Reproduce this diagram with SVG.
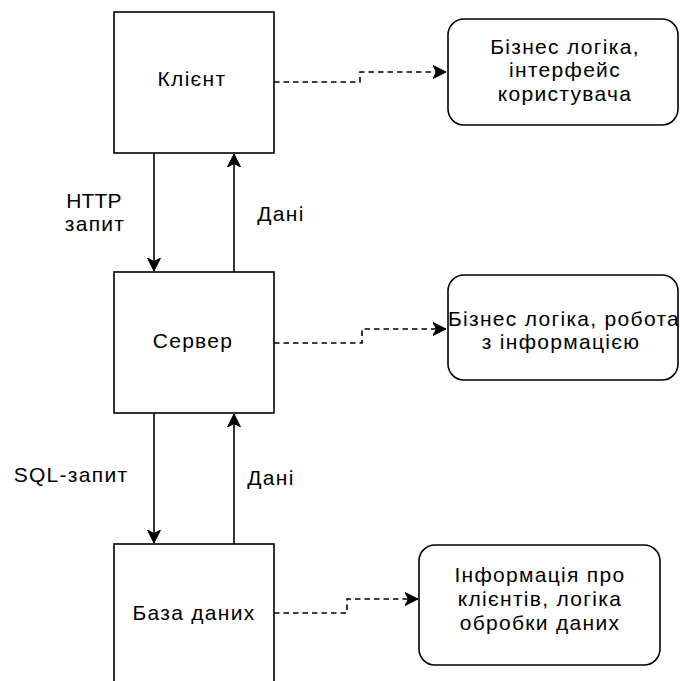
<svg xmlns="http://www.w3.org/2000/svg" width="680" height="681" viewBox="0 0 680 681">
  <style>
    .box { fill: #ffffff; stroke: #000000; stroke-width: 1.6; }
    .txt { font-family: "Liberation Sans", Arial, sans-serif; font-size: 21px; fill: #000000; text-anchor: middle; letter-spacing: 1.3px; }
    .lat { letter-spacing: 0.2px; }
    .solid { fill: none; stroke: #000000; stroke-width: 1.6; }
    .dash { fill: none; stroke: #000000; stroke-width: 1.6; stroke-dasharray: 5.5 4; }
  </style>
  <defs>
    <marker id="arrow" markerUnits="userSpaceOnUse" markerWidth="16" markerHeight="16" viewBox="-13 -8 16 16" refX="0" refY="0" orient="auto">
      <path d="M0,0 L-13,-6.5 L-9.5,0 L-13,6.5 Z" fill="#000000" stroke="#000000" stroke-width="1"/>
    </marker>
  </defs>
  <rect width="680" height="681" fill="#ffffff"/>

  <!-- tiers -->
  <g id="client">
    <rect class="box" x="114" y="12" width="160" height="141"/>
    <text class="txt" x="192" y="86">Клієнт</text>
  </g>
  <g id="server">
    <rect class="box" x="114" y="272" width="160" height="141"/>
    <text class="txt" x="193" y="348">Сервер</text>
  </g>
  <g id="database">
    <rect class="box" x="114" y="544" width="160" height="150"/>
    <text class="txt" x="194" y="620">База даних</text>
  </g>

  <!-- responsibilities -->
  <g id="client-role">
    <rect class="box" x="448" y="19" width="230" height="106" rx="16" ry="16"/>
    <text class="txt" x="565" y="54">Бізнес логіка,</text>
    <text class="txt" x="565" y="77">інтерфейс</text>
    <text class="txt" x="565" y="101">користувача</text>
  </g>
  <g id="server-role">
    <rect class="box" x="448" y="275" width="230" height="105" rx="16" ry="16"/>
    <text class="txt" x="564" y="326">Бізнес логіка, робота</text>
    <text class="txt" x="561" y="349">з інформацією</text>
  </g>
  <g id="database-role">
    <rect class="box" x="419" y="545" width="241" height="120" rx="16" ry="16"/>
    <text class="txt" x="540" y="582">Інформація про</text>
    <text class="txt" x="540" y="606">клієнтів, логіка</text>
    <text class="txt" x="540" y="630">обробки даних</text>
  </g>

  <!-- connectors -->
  <g id="connectors">
    <line class="solid" x1="154" y1="153" x2="154" y2="271" marker-end="url(#arrow)"/>
    <line class="solid" x1="234" y1="272" x2="234" y2="154" marker-end="url(#arrow)"/>
    <line class="solid" x1="154" y1="413" x2="154" y2="543" marker-end="url(#arrow)"/>
    <line class="solid" x1="234" y1="544" x2="234" y2="414" marker-end="url(#arrow)"/>
    <polyline class="dash" points="274,82 360,82 360,72 446,72" marker-end="url(#arrow)"/>
    <polyline class="dash" points="274,343 362,343 362,329 446,329" marker-end="url(#arrow)"/>
    <polyline class="dash" points="274,613 347,613 347,599 418,599" marker-end="url(#arrow)"/>
  </g>

  <!-- connector labels -->
  <g id="labels">
    <text class="txt lat" x="94" y="208">HTTP</text>
    <text class="txt" x="95" y="231">запит</text>
    <text class="txt" x="281" y="221">Дані</text>
    <text class="txt" x="71" y="482">SQL-запит</text>
    <text class="txt" x="271" y="485">Дані</text>
  </g>
</svg>
